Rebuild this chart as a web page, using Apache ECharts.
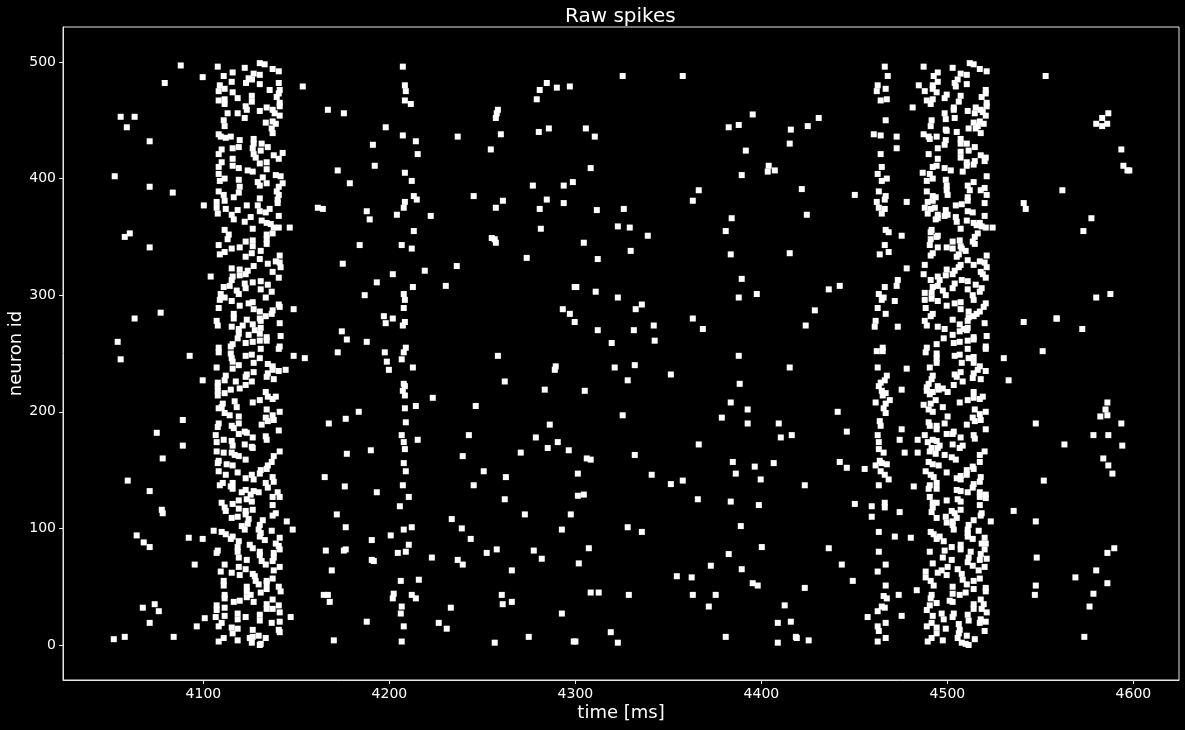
<!DOCTYPE html>
<html><head><meta charset="utf-8">
<style>html,body{margin:0;padding:0;background:#000}#c{width:1185px;height:730px}</style>
<script src="https://cdn.jsdelivr.net/npm/echarts@6/dist/echarts.min.js"></script>
</head><body><div id="c"></div>
<script>
const xTicks=[4100,4200,4300,4400,4500,4600];
const yTicks=[0,100,200,300,400,500];
const sparseLeft=[[4087.8,497],[4099.6,487],[4079.2,482],[4055.5,453],[4063,453],[4058.8,444],[4071.1,432],[4052.3,402],[4071.1,393],[4083.5,388],[4100.2,377],[4060.4,353],[4057.7,350],[4071.1,341],[4103.9,316],[4077,285],[4063,280],[4053.9,260],[4055.5,245],[4092.6,248],[4099.6,227],[4088.9,193],[4074.9,182],[4088.9,171],[4078.1,160],[4059.3,141],[4071.1,132],[4077.6,116],[4078.1,113],[4064.1,94],[4067.9,88],[4071.1,84],[4092.1,92],[4099.6,91],[4105.5,98],[4095.3,69],[4067.4,32],[4073.8,35],[4076,29],[4071.1,19],[4100.7,23],[4096.4,16],[4084,7],[4057.7,7],[4051.8,5]];
const burstOneTop=[[4107.7,496],[4115.7,491],[4122.2,495],[4130.3,499],[4132.9,498],[4137.2,494],[4140.5,492],[4110.9,488],[4124.3,486],[4127,490],[4130.3,489],[4122.9,482],[4126.1,485],[4115.2,483],[4130.3,481],[4140.5,482],[4108.8,480],[4111.4,477],[4108.2,475],[4115.7,474],[4135.6,476],[4141,476],[4140.5,473],[4126,471],[4118.4,469],[4139.4,470],[4108.2,467],[4111.4,468],[4111.4,464],[4126,466],[4141,465],[4141,462],[4122.7,462],[4123.3,459],[4134,461],[4130.3,458],[4137.2,459],[4138.3,456],[4113,456],[4118.4,456],[4141,454],[4122.2,452],[4110.9,450],[4133.5,448],[4137.2,449],[4138.9,447],[4111.4,445],[4136.7,443],[4137.2,439],[4108.2,438],[4109.3,436],[4112,435],[4114.7,436],[4127,434],[4119.5,433],[4127,430],[4131.3,430],[4119,427],[4115.7,426],[4134.6,427],[4126.5,426],[4130.8,424],[4109.8,425],[4108.2,421],[4127,421],[4137.8,420],[4142.6,422],[4128.1,418],[4140.5,417],[4115.7,417],[4109.8,414],[4130.3,413],[4134,414],[4115.7,411],[4108.2,410],[4119,409],[4134,408],[4123.8,407],[4126.5,406],[4108.2,404],[4138.9,403],[4141.5,402],[4111.4,400],[4108.8,398],[4119,399],[4131.9,401],[4129.2,397],[4134,396],[4142.6,396],[4130.3,394],[4119.5,393],[4140.5,393],[4108.2,389],[4119,388],[4139.4,389],[4110.9,386],[4140.5,386],[4116.3,384],[4111.4,381],[4130.3,383],[4139.9,382],[4107.1,380],[4139.9,379],[4129.2,377],[4123.3,377],[4107.1,375],[4112,374],[4118.4,373],[4130.3,372],[4133.5,371],[4135.6,374],[4107.7,370],[4115.2,369],[4140.5,368],[4125.4,367],[4116.3,365],[4131.3,364],[4122.2,363],[4134,362],[4136.2,361],[4137.8,358],[4140.5,358],[4146.4,358],[4126.5,357],[4111.4,356],[4113.6,352],[4137.2,353],[4134,352],[4113,348],[4122.7,346],[4126.5,347],[4134,348],[4134,344],[4108.2,343],[4126.5,342],[4115.2,340],[4119.5,341]];
const burstOneMid=[[4108.8,335],[4111.4,337],[4126,336],[4130.8,338],[4122.7,333],[4141,334],[4130.3,331],[4138.9,329],[4141,328],[4134.6,327],[4127,325],[4141.5,324],[4115.2,323],[4119.5,322],[4123.8,321],[4137.2,320],[4119.5,317],[4122.7,318],[4115.7,316],[4140.5,315],[4115.2,313],[4126.5,311],[4130.8,312],[4122.2,310],[4134.6,309],[4114.1,308],[4110.9,307],[4122.7,306],[4130.8,305],[4117.9,304],[4136.7,303],[4119,301],[4109.3,301],[4111.4,298],[4108.8,296],[4115.2,295],[4133.5,298],[4124.3,293],[4126.5,294],[4119.5,291],[4140.5,292],[4141,290],[4108.2,289],[4127,288],[4148.5,288],[4130.3,286],[4137.2,287],[4136.7,284],[4116.3,284],[4116.3,280],[4133.5,282],[4130.3,280],[4123.3,279],[4107.1,278],[4130.8,278],[4107.7,274],[4141,276],[4126.5,275],[4121.1,274],[4115.2,273],[4119,271],[4130.8,272],[4127.6,270],[4119,267],[4124.3,266],[4130.3,267],[4141.5,265],[4134,264],[4118.4,263],[4134,261],[4126.5,260],[4130.3,261],[4122.7,259],[4115.7,258],[4114.7,256],[4108.2,255],[4141,256],[4130.8,254],[4140.5,254],[4108.2,251],[4114.7,250],[4126,249],[4122.7,248],[4148.5,248],[4115.2,246],[4130.3,246],[4115.7,243],[4127,242],[4134.6,241],[4119,240],[4137.2,239],[4107.1,238],[4115.7,237],[4137.2,236],[4144.2,236],[4140.5,235],[4127,234],[4134.6,233],[4112,231],[4123.3,232],[4122.7,230],[4134,230],[4111.4,227],[4117.4,226],[4126,226],[4137.8,228],[4107.7,225],[4122.7,223],[4107.7,222],[4119.5,220],[4114.7,219],[4107.7,218],[4111.4,216],[4107.7,214],[4133.5,217],[4138.9,213],[4134.6,213],[4137.2,211],[4116.8,209],[4130.3,210],[4126.5,208],[4110.4,207],[4117.9,204],[4108.2,203],[4109.8,204],[4134,202],[4111.4,199],[4141,200],[4114.1,197],[4119,196],[4137.2,197],[4133.5,195],[4137.8,193],[4134.6,192],[4119,190],[4108.2,190],[4115.2,188],[4131.3,189],[4107.7,187],[4116.3,186],[4122.2,183],[4123.3,182],[4140.5,184],[4119,181],[4106.6,180],[4126.5,178],[4133.5,179],[4134,176],[4110.9,176],[4107.1,174],[4115.2,175],[4122.2,172],[4115.7,171],[4126,170],[4126.5,169]];
const burstOneLow=[[4107.1,166],[4110.9,165],[4115.2,165],[4116.8,163],[4119,162],[4122.7,159],[4141,166],[4137.8,162],[4136.7,157],[4108.2,158],[4107.7,156],[4112.5,155],[4115.7,154],[4134.6,154],[4134,151],[4108.2,149],[4130.8,150],[4130.3,147],[4112,146],[4118.4,148],[4126,146],[4122.7,143],[4127,142],[4137.2,144],[4137.8,140],[4110.4,139],[4108.8,137],[4115.7,139],[4115.7,134],[4114.7,136],[4133.5,139],[4134.6,135],[4122.7,133],[4120.6,131],[4127,132],[4129.7,131],[4125.4,129],[4139.9,131],[4137.2,127],[4141,127],[4123.3,125],[4119,124],[4126,123],[4109.8,122],[4115.7,121],[4137.2,120],[4111.4,118],[4119,117],[4126.5,116],[4122.7,115],[4112,115],[4122.7,112],[4138.9,113],[4137.2,111],[4118.4,110],[4115.2,109],[4124.3,108],[4144.8,106],[4123.8,104],[4131.9,107],[4120.6,102],[4130.3,103],[4122.2,99],[4129.7,99],[4136.7,98],[4148,99],[4109.8,97],[4112,95],[4130.8,96],[4115.7,93],[4114.7,91],[4130.3,93],[4141,92],[4133,90],[4119,89],[4138.9,87],[4124.9,86],[4140.5,85],[4118.4,84],[4126.5,83],[4141,82],[4118.4,80],[4130.3,80],[4107.7,81],[4107.1,79],[4137.8,79],[4130.3,77],[4137.8,75],[4119,75],[4123.3,73],[4137.2,72],[4131.3,72],[4133.5,69],[4111.4,69],[4119,67],[4141,67],[4122.7,65],[4109.3,63],[4137.8,64],[4115.2,62],[4126.5,61],[4119.5,60],[4127.6,59],[4137.2,57],[4128.1,55],[4110.9,55],[4134,55],[4134,53],[4110.9,51],[4129.7,52],[4123.3,50],[4134,48],[4140.5,50],[4141.5,46],[4130.8,45],[4123.3,46],[4125.4,43],[4111.4,43],[4123.3,41],[4111.4,40],[4137.2,39],[4127,37],[4119.5,38],[4116.3,37],[4134,35],[4107.1,34],[4140.5,34],[4111.4,32],[4134,31],[4137.2,31],[4107.1,30],[4141,28],[4118.4,27],[4130.3,26],[4111.4,25],[4106.6,24],[4122.7,24],[4146.9,24],[4118.4,22],[4130.3,21],[4141,20],[4136.7,19],[4109.8,19],[4108.2,16],[4115.2,15],[4118.4,14],[4140.5,13],[4141,11],[4126.5,13],[4115.7,10],[4129.7,8],[4124.9,6],[4126.5,7],[4110.9,6],[4133.5,6],[4108.2,3],[4118.4,4],[4126,2],[4130.8,1],[4130.3,0]];
const middleEarlyUpper=[[4153.4,479],[4207.2,496],[4208.3,480],[4208.8,475],[4208.3,467],[4211.5,464],[4166.9,459],[4175.5,456],[4198,444],[4207.2,437],[4214.2,432],[4191.1,429],[4215.2,421],[4192.1,411],[4172.2,407],[4208.3,405],[4212,398],[4178.7,396],[4213.1,385],[4214.7,382],[4208.3,380],[4207.7,375],[4161.5,375],[4164.2,374],[4187.8,372],[4204,369],[4189.4,365],[4222.2,368],[4213.1,355],[4184,343],[4206.6,343],[4212,340],[4174.9,327],[4201.8,318],[4219,321],[4193.2,311],[4212.6,307],[4186.7,300],[4207.7,301],[4208.3,296],[4207.7,289],[4197,282],[4201.8,280],[4208.3,277],[4198,276],[4207.2,274],[4174.4,269],[4177.1,262],[4187.8,260],[4208.8,255],[4284.6,482],[4280.8,476],[4290,478],[4297,479],[4279.2,468],[4258.3,459],[4257.7,456],[4257.2,452],[4259.9,438],[4236.7,436],[4280.3,440],[4285.7,443],[4254.5,425],[4277.1,394],[4293.7,394],[4298.6,397],[4245.3,385],[4261,381],[4284.6,382],[4257.2,375],[4280.8,374],[4293.7,379],[4281.4,357],[4255,349],[4256.6,348],[4257.2,345],[4273.8,332],[4236.2,325],[4230.3,308],[4299.6,307],[4293.2,288],[4297,284],[4299.6,277]];
const middleEarlyLower=[[4154.5,246],[4172.2,251],[4197.5,251],[4207.7,251],[4206.6,245],[4198.6,243],[4212.6,238],[4199.7,236],[4258.3,248],[4289.4,239],[4288.9,236],[4207.7,224],[4208.3,222],[4207.2,218],[4208.3,214],[4262,226],[4283.5,219],[4223.3,212],[4214.2,205],[4246.4,205],[4208.3,203],[4183.5,200],[4176.5,194],[4167.4,190],[4208.8,191],[4286.2,189],[4206.6,180],[4242.7,180],[4278.7,178],[4215.2,176],[4207.7,174],[4290.5,174],[4285.1,169],[4208.3,168],[4190,167],[4177.1,164],[4270.6,165],[4296.4,167],[4239.4,162],[4207.7,156],[4208.8,149],[4250.7,149],[4165.2,144],[4262.6,144],[4176,136],[4207.2,137],[4245.3,137],[4193.2,131],[4210.4,127],[4262,125],[4205.6,119],[4171.7,112],[4272.8,112],[4297.5,112],[4233.5,108],[4176.5,101],[4207.7,99],[4212,101],[4238.9,100],[4292.7,99],[4200.7,94],[4190.5,90],[4243.7,91],[4210.4,86],[4165.8,81],[4175.5,81],[4176.5,82],[4204.5,79],[4208.8,80],[4257.7,82],[4252.3,79],[4277.6,81],[4222.8,75],[4190.5,73],[4191.6,72],[4236.7,73],[4281.9,74],[4239.4,69],[4169,64],[4265.8,64],[4206.1,55],[4215.8,56],[4202.3,44],[4201.8,40],[4164.7,43],[4166.9,43],[4167.9,37],[4212,43],[4214.2,40],[4260.4,43],[4260.9,35],[4265.8,37],[4206.6,33],[4233,32],[4206.1,27],[4292.7,27],[4187.8,20],[4226.5,19],[4207.7,16],[4230.8,14],[4274.9,7],[4170.1,4],[4206.6,3],[4256.6,2],[4299.1,3]];
const middleLateUpper=[[4325.4,488],[4357.7,488],[4395.3,455],[4430.8,452],[4305.6,443],[4310.4,436],[4387.8,446],[4382.4,444],[4424.9,445],[4415.8,442],[4415.2,430],[4391.6,424],[4308.2,409],[4403.9,411],[4403.4,406],[4407.2,407],[4389.4,403],[4421.7,391],[4366.3,390],[4363.1,381],[4450.2,386],[4311.5,373],[4326,374],[4384,366],[4424.4,369],[4322.8,359],[4329.2,358],[4380.8,355],[4338.9,351],[4304.5,345],[4329.7,338],[4383.5,335],[4415.2,336],[4312,331],[4389.4,314],[4442.1,308],[4436.2,305],[4300.5,307],[4310.9,303],[4397.5,301],[4322.8,298],[4387.8,298],[4335.7,292],[4332.4,288],[4428.7,287],[4363.1,280],[4342.1,274],[4423.8,274],[4312,270],[4331.4,270],[4368.5,271],[4319.5,259],[4342.6,261]];
const middleLateLower=[[4387.8,248],[4321.1,238],[4331.9,240],[4415.2,238],[4351.3,232],[4328.1,227],[4388.3,224],[4305,218],[4383.5,208],[4392.6,202],[4441,200],[4325.4,197],[4378.7,195],[4392.6,190],[4409.3,190],[4445.9,183],[4416.3,180],[4410.4,178],[4366.3,172],[4331.9,163],[4306.1,160],[4308.2,159],[4384.6,157],[4442.1,157],[4396.4,153],[4406.6,156],[4445.9,152],[4455.5,151],[4301.3,147],[4386.2,147],[4341,146],[4399.6,142],[4357.7,141],[4351.3,138],[4423.3,137],[4301.3,128],[4304.5,129],[4365.8,125],[4383.5,123],[4398.6,120],[4450.2,121],[4388.9,102],[4328.1,101],[4335.7,97],[4307.2,83],[4400.2,84],[4436.2,83],[4382.4,78],[4301.8,70],[4443.2,69],[4372.8,68],[4389.4,65],[4354.5,59],[4362.5,58],[4449.1,55],[4395.3,53],[4398,51],[4423.3,49],[4308.2,45],[4312.5,45],[4328.7,43],[4363.1,43],[4375.4,43],[4371.7,33],[4412.5,34],[4408.8,19],[4415.8,20],[4319,11],[4380.8,7],[4418.5,7],[4419,6],[4322.8,2],[4408.8,2],[4425.4,4],[4300,3]];
const burstTwoTop=[[4466.3,496],[4487.2,496],[4502.8,495],[4512,499],[4514.1,498],[4517.4,494],[4521.1,492],[4552.8,488],[4467.9,488],[4494.8,491],[4492.6,488],[4507.1,490],[4510.4,489],[4505.5,485],[4494.8,483],[4503.9,482],[4510.4,481],[4484.6,480],[4492.1,480],[4462.5,480],[4504.5,479],[4466.8,477],[4492.1,477],[4462,475],[4487.8,475],[4494.2,474],[4520.6,476],[4520.6,473],[4499.6,472],[4507.1,471],[4518.4,470],[4464.1,467],[4467.4,468],[4488.9,467],[4492.1,468],[4498.5,469],[4506.1,466],[4491,464],[4521.1,465],[4521.1,462],[4481.3,461],[4503.4,461],[4515.2,461],[4517.9,459],[4503.4,459],[4510.9,458],[4498.5,456],[4514.7,456],[4519,457],[4520.6,454],[4503.9,452],[4499.1,451],[4466.8,450],[4491.5,450],[4517.4,449],[4514.1,448],[4519.5,447],[4491,445],[4516.3,445],[4511.4,443],[4515.2,443],[4499.1,442],[4499.6,441],[4505,440],[4517.9,439],[4460.4,438],[4464.1,437],[4472.7,436],[4487.2,438],[4489.9,436],[4490.5,434],[4494.2,436],[4507.1,434],[4499.1,433],[4510.4,430],[4498.5,429],[4507.1,430],[4514.7,427],[4472.7,426],[4494.8,426],[4511.4,424],[4507.1,423],[4489.9,421],[4464.1,421],[4517.9,420],[4507.1,418],[4520.6,418],[4494.8,417],[4520,415],[4510.4,414],[4514.7,415],[4510.4,411],[4514.1,412],[4494.2,411],[4492.1,410],[4464.7,410],[4498.5,409],[4501.8,407],[4508.2,406],[4486.7,405],[4462.5,404],[4490.5,404],[4521.1,402],[4492.1,400],[4467.4,400],[4464.7,398],[4499.1,399],[4488.9,398],[4514.1,397],[4499.6,394],[4510.9,394],[4520,392],[4512,390],[4517.9,390],[4463.1,389],[4488.9,389],[4499.6,390],[4500.1,386],[4521.1,386],[4466.8,385],[4492.1,385],[4493.7,384],[4510.9,384],[4466.3,382],[4510.9,381],[4492.1,381],[4462,380],[4478.1,380],[4489.4,380],[4520,379],[4541,379],[4507.7,378],[4504.5,377],[4463.1,375],[4466.3,374],[4487.8,375],[4493.2,375],[4491,374],[4542.1,374],[4499.1,373],[4510.9,372],[4513.6,371],[4464.7,370],[4489.4,370],[4494.8,369],[4500.1,369],[4498.5,368],[4520,368],[4504.5,367],[4494.8,366],[4493.7,365],[4505,363],[4510.4,364],[4514.1,362],[4517.4,362],[4515.7,360],[4518.4,359],[4520.6,358],[4524.3,358],[4507.1,357],[4466.8,356],[4468.4,354],[4491.5,356],[4491,354],[4475.4,351],[4494.8,351],[4494.2,350],[4516.3,353],[4514.7,350],[4491,348],[4502.8,346],[4506.6,347],[4513.6,346],[4514.7,344],[4490.5,343],[4466.3,343],[4507.1,342],[4499.6,341],[4494.8,341],[4502.8,340],[4507.7,340]];
const burstTwoMid=[[4463.6,335],[4468.4,337],[4492.1,336],[4491,334],[4506.1,335],[4505,333],[4509.8,338],[4521.1,334],[4510.9,330],[4520,328],[4517.4,329],[4478.1,323],[4487.8,326],[4507.1,326],[4514.1,326],[4521.1,324],[4506.1,324],[4499.6,322],[4503.9,321],[4487.2,318],[4517.9,320],[4502.8,318],[4499.1,317],[4494.8,316],[4519,318],[4520.6,315],[4495.8,313],[4491,313],[4473.3,313],[4507.7,313],[4510.9,312],[4503.9,310],[4515.2,309],[4472.7,308],[4494.8,308],[4466.3,307],[4492.1,307],[4502.8,306],[4510.9,305],[4518.4,306],[4497.5,304],[4517.4,303],[4463.1,301],[4487.8,302],[4491.5,302],[4499.1,300],[4513.6,300],[4465.7,298],[4487.8,296],[4491.5,297],[4514.1,296],[4464.7,296],[4494.8,295],[4471.7,295],[4507.1,294],[4503.9,293],[4499.6,291],[4520.6,293],[4519.5,290],[4462.5,289],[4488.3,289],[4507.1,288],[4511.4,286],[4517.4,286],[4466.8,284],[4492.1,284],[4515.7,284],[4514.1,282],[4491,282],[4511.4,281],[4502.8,279],[4510.9,278],[4461.4,278],[4541,277],[4487.8,278],[4558.8,280],[4520,276],[4506.6,275],[4460.9,273],[4488.9,274],[4473.3,273],[4494.8,273],[4498.5,271],[4510.9,272],[4506.6,269],[4510.4,270],[4508.8,271],[4502.8,266],[4521.1,265],[4498,263],[4514.1,264],[4510.9,261],[4506.6,260],[4503.4,259],[4514.1,262],[4494.2,258],[4465.2,255],[4520.6,256],[4520.6,254],[4488.9,255],[4510.9,254],[4551.2,252],[4462,252],[4465.2,252],[4488.3,251],[4494.2,250],[4503.9,248],[4506.6,249],[4514.1,247],[4511.4,246],[4530.3,246],[4494.2,246],[4494.2,242],[4507.7,242],[4514.1,242],[4517.4,239],[4462.5,238],[4478.1,237],[4490.5,238],[4516.3,236],[4520.6,235],[4514.1,233],[4503.9,232],[4467.4,231],[4492.1,231],[4507.1,234],[4505,230],[4513.6,229],[4517.9,228],[4491.5,228],[4532.9,227],[4466.3,227],[4508.2,226],[4464.1,225],[4489.9,224],[4503.4,223],[4463.1,222],[4488.9,221],[4494.8,222],[4497.5,220],[4475.4,219],[4495.3,219],[4464.7,218],[4488.9,218],[4500.1,217],[4514.1,217],[4466.8,216],[4490.5,215],[4492.1,217],[4465.2,214],[4519,213],[4514.1,212],[4510.9,210],[4517.4,211],[4469,210],[4493.7,210],[4461.4,208],[4506.6,208],[4466.8,207],[4487.2,206],[4491,207],[4514.7,202],[4497.5,204],[4465.7,203],[4489.9,202],[4520.6,200],[4492.1,200],[4466.8,199],[4517.4,198],[4500.1,196],[4513.6,195],[4514.7,192],[4517.9,193],[4463.6,192],[4489.9,191],[4498.5,190],[4510.4,189],[4547.5,190],[4464.1,188],[4494.2,188],[4490.5,188],[4494.2,185],[4475.4,185],[4520.6,185],[4503.4,183],[4462.5,180],[4499.6,181],[4487.8,180],[4502.8,181],[4514.1,180],[4514.7,177],[4507.1,178],[4474.3,176],[4484,176],[4489.4,174],[4492.1,176],[4494.2,175],[4495.8,171],[4463.1,174],[4502.8,172],[4508.2,171],[4506.6,169],[4491.5,169],[4494.8,169],[4463.1,168]];
const burstTwoLow=[[4465.7,165],[4477,165],[4484,165],[4490.5,166],[4493.7,164],[4498.5,163],[4502.3,161],[4504.5,159],[4517.4,163],[4517.4,157],[4520,166],[4489.9,157],[4463.6,158],[4464.7,156],[4467.4,155],[4461.4,154],[4492.1,155],[4495.3,154],[4513.6,153],[4514.1,151],[4510.4,150],[4464.1,149],[4488.3,149],[4499.6,148],[4510.4,146],[4466.3,146],[4491,146],[4492.6,144],[4507.1,145],[4505,143],[4507.1,142],[4517.9,144],[4468.4,142],[4517.4,140],[4494.2,139],[4551.8,141],[4490.5,137],[4463.1,137],[4481.9,136],[4514.1,138],[4513.6,135],[4494.2,134],[4489.9,134],[4505,133],[4507.1,132],[4510.9,131],[4517.4,131],[4520.6,129],[4517.4,127],[4520.6,126],[4490.5,127],[4505.5,125],[4499.6,124],[4492.1,122],[4494.2,122],[4507.1,123],[4466.3,122],[4517.4,120],[4459.3,119],[4466.3,118],[4492.1,118],[4507.1,116],[4535.6,115],[4474.3,114],[4502.3,115],[4491.5,114],[4503.9,113],[4518.4,113],[4517.9,111],[4459.3,110],[4494.2,109],[4499.1,110],[4505,109],[4514.1,107],[4547.5,106],[4523.3,106],[4499.6,105],[4502.8,106],[4511.4,103],[4502.8,103],[4503.4,99],[4510.9,99],[4516.8,98],[4491,97],[4463.1,97],[4492.6,95],[4510.9,96],[4471.7,93],[4480.3,92],[4494.2,91],[4495.8,93],[4510.9,93],[4520,92],[4513.6,91],[4498,89],[4518.4,87],[4520.6,87],[4502.3,84],[4507.1,86],[4520,82],[4507.1,82],[4498.5,81],[4490.5,80],[4463.1,80],[4512.5,80],[4517.9,78],[4497.5,75],[4548,75],[4521.1,74],[4502.3,73],[4511.4,75],[4517.4,73],[4510.9,71],[4466.8,69],[4492.1,70],[4513.6,68],[4500.1,67],[4505.5,65],[4520,67],[4516.8,64],[4462.5,63],[4496.9,64],[4494.8,62],[4488.3,63],[4507.7,61],[4499.6,60],[4488.3,58],[4517.4,57],[4491,55],[4508.2,56],[4514.1,55],[4492.6,51],[4510.4,52],[4466.8,51],[4502.8,50],[4547.5,51],[4514.1,48],[4520.6,49],[4483.5,47],[4520.6,46],[4502.8,44],[4509.8,45],[4506.6,43],[4473.8,43],[4547,43],[4491.5,43],[4465.7,42],[4467.4,40],[4491,40],[4517.9,39],[4501.2,38],[4502.8,37],[4494.2,36],[4514.1,35],[4519.5,35],[4464.7,33],[4466.3,32],[4490.5,34],[4514.1,31],[4488.9,30],[4518.4,31],[4462.5,29],[4521.1,28],[4496.9,27],[4503.4,27],[4510.9,26],[4457.1,24],[4475.4,25],[4492.1,25],[4502.8,24],[4498,22],[4511.4,21],[4517.9,22],[4520.6,20],[4517.4,19],[4466.8,19],[4462.5,16],[4506.1,18],[4491.5,19],[4488.9,16],[4494.2,15],[4499.1,14],[4506.6,13],[4520,12],[4463.1,12],[4494.2,10],[4506.1,10],[4491.5,6],[4510.4,8],[4466.8,6],[4514.7,5],[4462.5,3],[4489.4,3],[4497.5,4],[4505.5,6],[4507.7,2],[4509.8,1],[4511.4,0]];
const sparseRight=[[4580,447],[4583.2,452],[4585.9,447],[4586.5,456],[4583.2,445],[4593.5,425],[4594.6,411],[4596.8,407],[4597.8,407],[4561.8,390],[4577.4,366],[4573.1,355],[4580,298],[4587.6,301],[4572.5,271],[4558.6,280],[4586,197],[4586,208],[4585,202],[4582.2,196],[4578.5,180],[4586.5,180],[4593.5,190],[4594,171],[4562.9,172],[4583.8,160],[4586.5,154],[4588.7,147],[4589.7,83],[4586,79],[4580,64],[4568.8,58],[4578.5,44],[4576.4,33],[4586,53],[4573.6,7]];
const allSpikes=[].concat(sparseLeft,burstOneTop,burstOneMid,burstOneLow,middleEarlyUpper,middleEarlyLower,middleLateUpper,middleLateLower,burstTwoTop,burstTwoMid,burstTwoLow,sparseRight);
const FONT='"DejaVu Sans"';
const ink='#e6e6e6';
const chart=echarts.init(document.getElementById('c'),null,{renderer:'canvas'});
chart.setOption({
  animation:false,
  backgroundColor:'#000',
  title:{text:'Raw spikes',left:560,top:2,textStyle:{color:'#fff',fontFamily:FONT,fontSize:20,fontWeight:'normal'}},
  grid:{left:63,right:6,top:27,bottom:50,outerBoundsMode:'none',show:true,borderColor:'#e6e6e6',borderWidth:1,backgroundColor:'#000'},
  xAxis:{type:'value',min:4024.5,max:4624.5,name:'time [ms]',nameLocation:'middle',nameGap:24,nameMoveOverlap:false,
    nameTextStyle:{color:'#fff',fontFamily:FONT,fontSize:18},
    axisLine:{show:true,onZero:false,lineStyle:{color:ink,width:1}},
    axisTick:{show:true,length:4,inside:false,lineStyle:{color:ink,width:1},customValues:xTicks},
    axisLabel:{color:'#fff',fontFamily:FONT,fontSize:14,margin:7,customValues:xTicks,formatter:v=>String(v)},
    splitLine:{show:false}},
  yAxis:{type:'value',min:-30,max:530,name:'neuron id',nameLocation:'middle',nameGap:38,nameMoveOverlap:false,
    nameTextStyle:{color:'#fff',fontFamily:FONT,fontSize:18},
    axisLine:{show:true,onZero:false,lineStyle:{color:ink,width:1}},
    axisTick:{show:true,length:4,inside:false,lineStyle:{color:ink,width:1},customValues:yTicks},
    axisLabel:{color:'#fff',fontFamily:FONT,fontSize:14,margin:7,customValues:yTicks,formatter:v=>String(v)},
    splitLine:{show:false}},
  series:[{type:'scatter',data:allSpikes,symbol:'rect',symbolSize:6,silent:true,itemStyle:{color:'#fff',opacity:1}}]
});
</script></body></html>
